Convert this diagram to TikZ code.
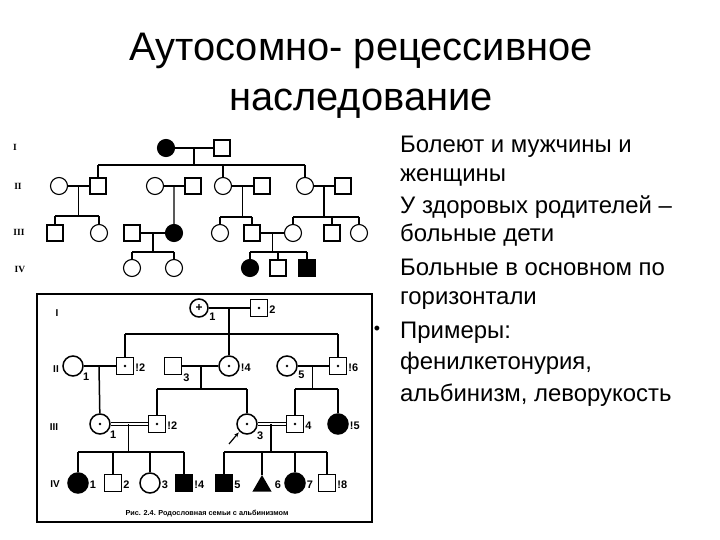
\documentclass[tikz,border=0pt]{standalone}
\usepackage{fontspec}
\setmainfont{Liberation Sans}
\newfontfamily\pedserif{Liberation Serif}
\usetikzlibrary{shapes.geometric, arrows.meta, calc}
\tikzset{
  >=Stealth,
  pedline/.style={line width=1.1bp},
  pedbold/.style={line width=1.5bp},
  ma/.style={rectangle, draw, fill=white, line width=1.1bp, minimum size=#1, inner sep=0pt},
  ma/.default=16bp,
  fe/.style={circle, draw, fill=white, line width=1.1bp, minimum size=#1, inner sep=0pt},
  fe/.default=17bp,
  bm/.style={ma=17bp, line width=1.5bp},
  bf/.style={fe=20bp, line width=1.5bp},
  ill/.style={fill=black},
  carrier/.style={path picture={\fill[black] (path picture bounding box.center) circle (1.3bp);}},
  gen/.style={font=\pedserif\bfseries\fontsize{9.5}{9.5}\selectfont},
  genb/.style={font=\bfseries\fontsize{10}{10}\selectfont},
  num/.style={font=\bfseries\fontsize{11}{11}\selectfont, inner sep=1bp},
  nr/.style={label={[num]-35:#1}},
  nrs/.style={label={[num]-20:#1}},
  nrr/.style={label={[num, yshift=-2bp]0:#1}},
  body/.style={font=\fontsize{24}{29}\selectfont, align=left, inner sep=0pt, anchor=west}
}
\begin{document}
\begin{tikzpicture}[x=1bp, y=-1bp]
    \useasboundingbox (0,0) rectangle (720,540);

    % title and text
    \node[font=\fontsize{40}{50}\selectfont, align=center] (title) at (361,76) {Аутосомно- рецессивное\\наследование};
    \node[body] (it1) at (400,161) {Болеют и мужчины и\\женщины};
    \node[body] (it2) at (400,221) {У здоровых родителей –\\больные дети};
    \node[body] (it3) at (400,284) {Больные в основном по\\горизонтали};
    \node[body, font=\fontsize{24}{31.5}\selectfont] (it4) at (400,364) {Примеры:\\фенилкетонурия,\\альбинизм, леворукость};
    \node[font=\fontsize{18}{18}\selectfont] (bul) at (377,330) {•};

    % upper pedigree
    \node[gen] (tg1) at (15,147) {I};
    \node[gen] (tg2) at (18,186) {II};
    \node[gen] (tg3) at (19,232) {III};
    \node[gen] (tg4) at (20,269) {IV};

    \node[fe, ill] (t11) at (166,148) {};
    \node[ma] (t12) at (222,148) {};

    \node[fe] (t21) at (59,186) {};
    \node[ma] (t22) at (98,186) {};
    \node[fe] (t23) at (155,186) {};
    \node[ma] (t24) at (193,186) {};
    \node[fe] (t25) at (223,186) {};
    \node[ma] (t26) at (262,186) {};
    \node[fe] (t27) at (305,186) {};
    \node[ma] (t28) at (343,186) {};

    \node[ma] (t31) at (55,233) {};
    \node[fe] (t32) at (99,233) {};
    \node[ma] (t33) at (132,233) {};
    \node[fe, ill] (t34) at (174,233) {};
    \node[fe] (t35) at (220,233) {};
    \node[ma] (t36) at (252,233) {};
    \node[fe] (t37) at (293,233) {};
    \node[ma] (t38) at (332,233) {};
    \node[fe] (t39) at (359,233) {};

    \node[fe] (t41) at (132,268) {};
    \node[fe] (t42) at (174,268) {};
    \node[fe, ill] (t43) at (250,268) {};
    \node[ma] (t44) at (278,268) {};
    \node[ma, ill] (t45) at (307,268) {};

    \begin{scope}[pedline]
    \draw (t11) -- (t12);
    \coordinate (tm1) at ($(t11)!0.5!(t12)$);
    \draw (tm1) -- ++(0,17) coordinate (ts1);
    \draw (ts1 -| t22) -- (ts1 -| t27);
    \foreach \c in {t22,t25,t27} \draw (ts1 -| \c) -- (\c);

    \draw (t21) -- (t22);
    \coordinate (tm2) at ($(t21)!0.5!(t22)$);
    \draw (tm2) -- ++(0,30) coordinate (ts2);
    \draw (ts2 -| t31) -- (ts2 -| t32);
    \foreach \c in {t31,t32} \draw (ts2 -| \c) -- (\c);

    \draw (t23) -- (t24);
    \coordinate (tm3) at ($(t23)!0.5!(t24)$);
    \draw (tm3) -- (t34);

    \draw (t25) -- (t26);
    \coordinate (tm4) at ($(t25)!0.5!(t26)$);
    \draw (tm4) -- ++(0,31) coordinate (ts4);
    \draw (ts4 -| t35) -- (ts4 -| t36);
    \foreach \c in {t35,t36} \draw (ts4 -| \c) -- (\c);

    \draw (t27) -- (t28);
    \coordinate (tm5) at ($(t27)!0.5!(t28)$);
    \draw (tm5) -- ++(0,31) coordinate (ts5);
    \draw (ts5 -| t37) -- (ts5 -| t39);
    \foreach \c in {t37,t38,t39} \draw (ts5 -| \c) -- (\c);

    \draw (t33) -- (t34);
    \coordinate (tm6) at ($(t33)!0.5!(t34)$);
    \draw (tm6) -- ++(0,19) coordinate (ts6);
    \draw (ts6 -| t41) -- (ts6 -| t42);
    \foreach \c in {t41,t42} \draw (ts6 -| \c) -- (\c);

    \draw (t36) -- (t37);
    \coordinate (tm7) at ($(t36)!0.5!(t37)$);
    \draw (tm7) -- ++(0,19) coordinate (ts7);
    \draw (ts7 -| t43) -- (ts7 -| t45);
    \foreach \c in {t43,t44,t45} \draw (ts7 -| \c) -- (\c);
    \end{scope}

    % lower pedigree (albinism)
    \draw[pedline] (37,294) rectangle (372,522);
    \node[genb] (bg1) at (57,313) {I};
    \node[genb] (bg2) at (56,369) {II};
    \node[genb] (bg3) at (54,427) {III};
    \node[genb] (bg4) at (55,484) {IV};

    \node[fe=18bp, line width=1.5bp, font=\bfseries\fontsize{12}{12}\selectfont, nrs=1] (b11) at (199,308) {+};
    \node[bm, carrier, nrr=2] (b12) at (259,308) {};

    \node[bf, nr=1] (b21) at (73,366) {};
    \node[bm, carrier, nrr=!2] (b22) at (125,366) {};
    \node[bm, nr=3] (b23) at (173,366) {};
    \node[bf, carrier, nrr=!4] (b24) at (229,366) {};
    \node[bf, carrier, nrs=5] (b25) at (287,366) {};
    \node[bm, carrier, nrr=!6] (b26) at (338,366) {};

    \node[bf, carrier, nr=1] (b31) at (100,424) {};
    \node[bm, carrier, nrr=!2] (b32) at (157,424) {};
    \node[bf, carrier, nr=3] (b33) at (247,424) {};
    \node[bm, carrier, nrr=4] (b34) at (295,424) {};
    \node[bf, ill, nrr=!5] (b35) at (338,424) {};

    \node[bf, ill, nrr=1] (b41) at (78,483) {};
    \node[bm, nrr=2] (b42) at (113,483) {};
    \node[bf, nrr=3] (b43) at (150,483) {};
    \node[bm, ill, nrr=!4] (b44) at (184,483) {};
    \node[bm, ill, nrr=5] (b45) at (224,483) {};
    \node[regular polygon, regular polygon sides=3, fill=black, minimum size=22bp, inner sep=0pt,
          label={[num, xshift=5bp, yshift=1bp]0:6}] (b46) at (262,486) {};
    \node[bf, ill, nrr=7] (b47) at (295,483) {};
    \node[bm, nrr=!8] (b48) at (327,483) {};

    \node[font=\bfseries\fontsize{7.3}{7.3}\selectfont] (cap) at (207,514) {Рис. 2.4. Родословная семьи с альбинизмом};

    \begin{scope}[pedbold]
    \draw (b11) -- (b12);
    \coordinate (bm1) at ($(b11)!0.5!(b12)$);
    \draw (bm1) -- ++(0,26) coordinate (bs1);
    \draw (bs1 -| b22) -- (bs1 -| b26);
    \foreach \c in {b22,b24,b26} \draw (bs1 -| \c) -- (\c);

    \draw (b21) -- (b22);
    \coordinate (bm2) at ($(b21)!0.5!(b22)$);
    \draw (bm2) -- (b31);

    \draw (b23) -- (b24);
    \coordinate (bm3) at ($(b23)!0.5!(b24)$);
    \draw (bm3) -- ++(0,23) coordinate (bs3);
    \draw (bs3 -| b32) -- (bs3 -| b33);
    \foreach \c in {b32,b33} \draw (bs3 -| \c) -- (\c);

    \draw (b25) -- (b26);
    \coordinate (bm4) at ($(b25)!0.5!(b26)$);
    \draw (bm4) -- ++(0,23) coordinate (bs4);
    \draw (bs4 -| b34) -- (bs4 -| b35);
    \foreach \c in {b34,b35} \draw (bs4 -| \c) -- (\c);

    % consanguineous marriages
    \draw[line width=0.9bp, double, double distance=1.6bp] (b31) -- (b32);
    \coordinate (bm5) at ($(b31)!0.5!(b32)$);
    \draw (bm5) -- ++(0,28) coordinate (bs5);
    \draw (bs5 -| b41) -- (bs5 -| b44);
    \foreach \c in {b41,b42,b43,b44} \draw (bs5 -| \c) -- (\c);

    \draw[line width=0.9bp, double, double distance=1.6bp] (b33) -- (b34);
    \coordinate (bm6) at ($(b33)!0.5!(b34)$);
    \draw (bm6) -- ++(0,28) coordinate (bs6);
    \draw (bs6 -| b45) -- (bs6 -| b48);
    \foreach \c in {b45,b46,b47,b48} \draw (bs6 -| \c) -- (\c);
    \end{scope}

    % proband
    \coordinate (prob) at (229,444);
    \draw[-{Stealth[length=5bp, width=4bp]}, line width=1.2bp, shorten >=1bp] (prob) -- (b33.225);
\end{tikzpicture}
\end{document}
